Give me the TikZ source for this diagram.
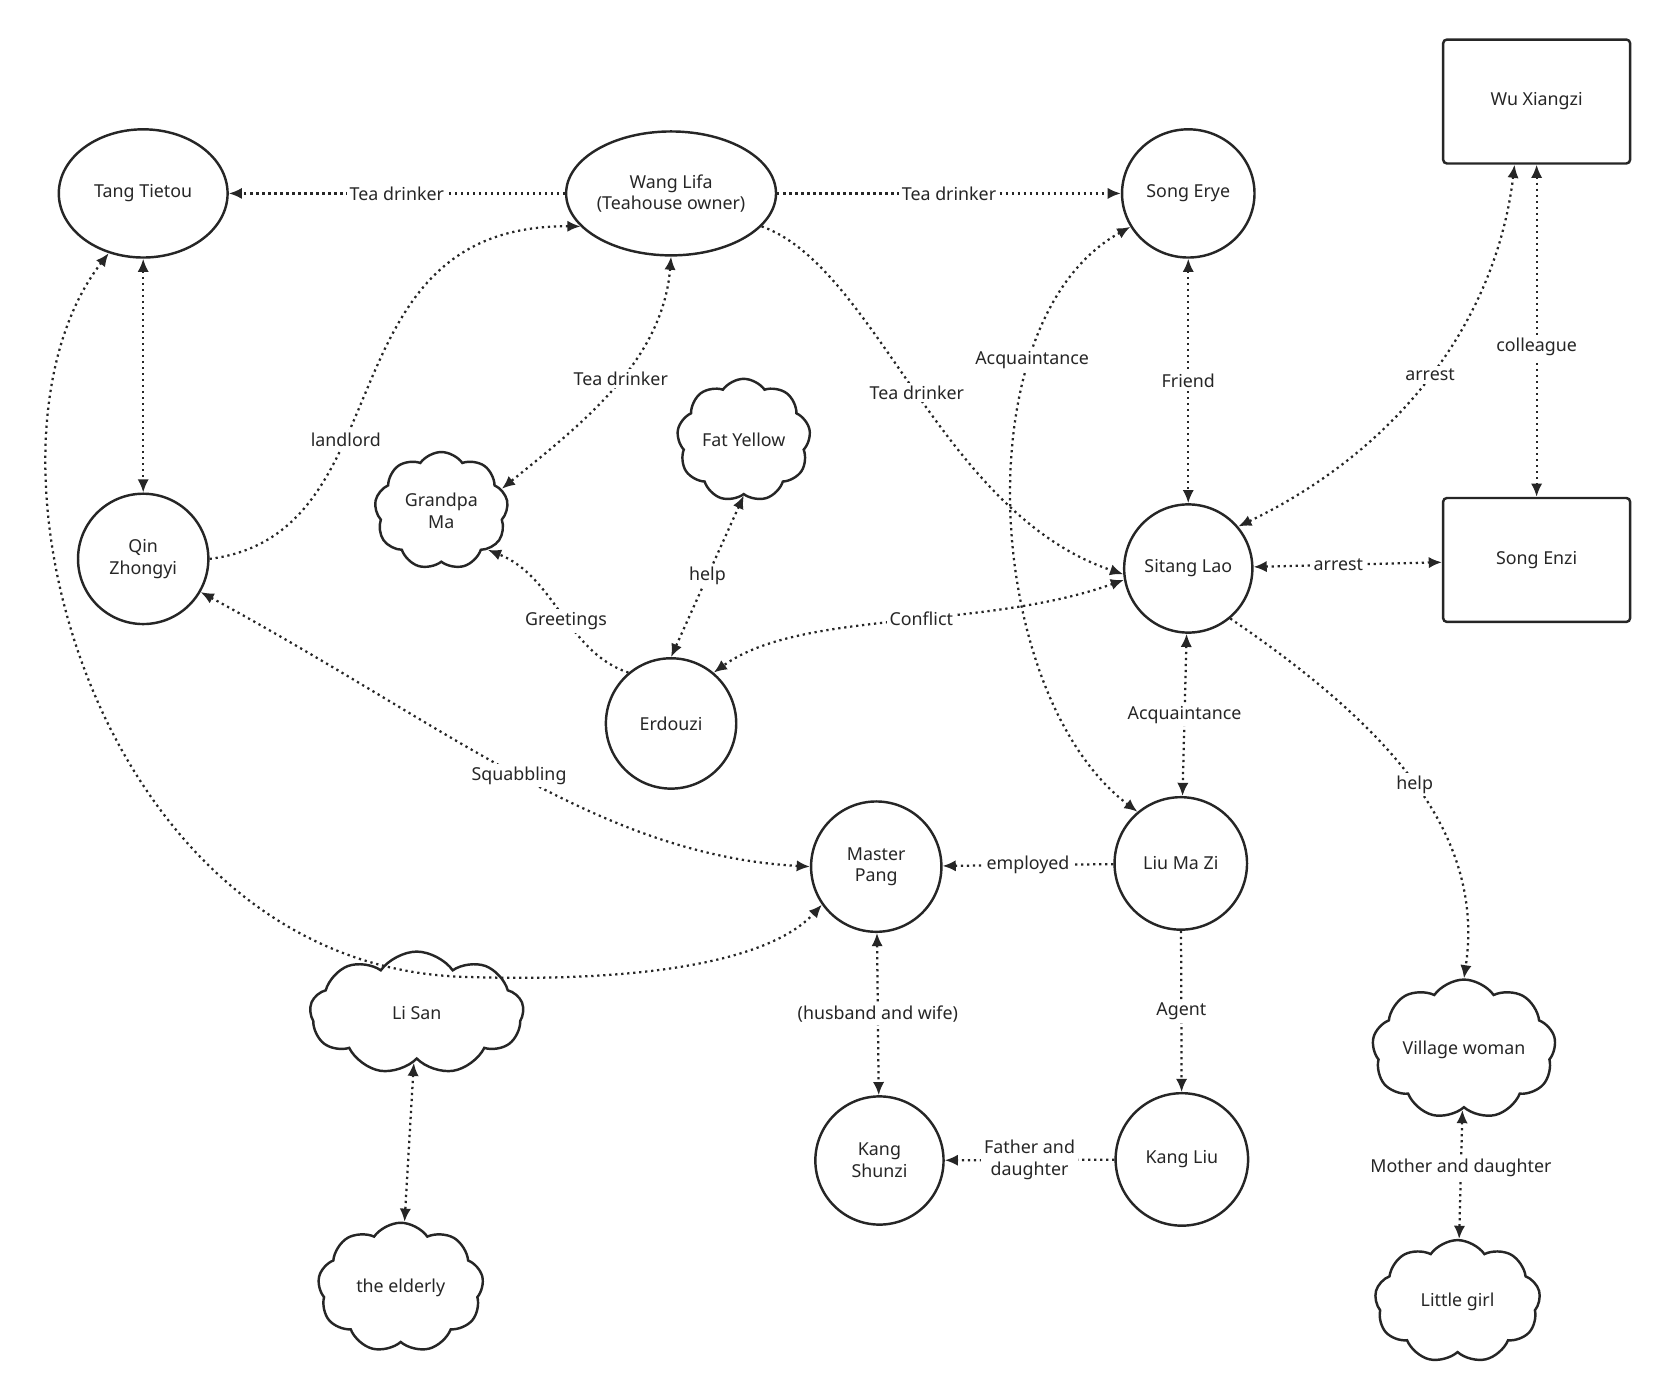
\documentclass[tikz,border=0pt]{standalone}
\usepackage{fontspec}
\setmainfont{Noto Sans}
\usetikzlibrary{shapes.geometric,shapes.symbols,arrows.meta}
\begin{document}
\begin{tikzpicture}[x=0.02cm,y=-0.02cm,
  every node/.style={font=\fontsize{9.5}{11.5}\selectfont,text=black!85,align=center},
  circ/.style={ellipse,draw=black!85,line width=1.3pt,inner sep=0pt},
  box/.style={rectangle,rounded corners=2pt,draw=black!85,line width=1.3pt,minimum width=3.5cm,minimum height=2.32cm},
  cld/.style={cloud,cloud puffs=9,cloud puff arc=110,draw=black!85,line width=1.3pt,aspect=1.1,inner sep=0pt},
  ed/.style={draw=black!85,line width=1.2pt,dotted,-{Latex[length=7pt,width=6pt]}},
  bd/.style={ed,{Latex[length=7pt,width=6pt]}-{Latex[length=7pt,width=6pt]}},
  lb/.style={fill=white,inner sep=1.5pt}]
\useasboundingbox (0,0) rectangle (1560,1306);
\node[circ,minimum width=3.16cm,minimum height=2.4cm] (tang) at (134,181) {Tang Tietou};
\node[circ,minimum width=3.8cm,minimum height=2.32cm] (wang) at (628,181) {Wang Lifa\\(Teahouse owner)};
\node[circ,minimum width=2.48cm,minimum height=2.4cm] (erye) at (1112,181) {Song Erye};
\node[box] (wu) at (1438,95) {Wu Xiangzi};
\node[circ,minimum width=2.44cm,minimum height=2.44cm] (qin) at (134,523) {Qin\\Zhongyi};
\node[cld,minimum width=2.5cm,minimum height=2.2cm] (ma) at (413,478) {Grandpa\\Ma};
\node[cld,minimum width=2.5cm,minimum height=2.3cm] (fat) at (696,412) {Fat Yellow};
\node[circ,minimum width=2.4cm,minimum height=2.4cm] (sitang) at (1112,532) {Sitang Lao};
\node[box] (enzi) at (1438,524) {Song Enzi};
\node[circ,minimum width=2.44cm,minimum height=2.44cm] (erdou) at (628,677) {Erdouzi};
\node[circ,minimum width=2.44cm,minimum height=2.44cm] (pang) at (820,811) {Master\\Pang};
\node[circ,minimum width=2.48cm,minimum height=2.48cm] (liu) at (1105,808) {Liu Ma Zi};
\node[cld,minimum width=4cm,minimum height=2.3cm] (lisan) at (390,948) {Li San};
\node[cld,minimum width=3.2cm,minimum height=2.2cm,aspect=1.5] (village) at (1370,982) {Village woman};
\node[circ,minimum width=2.4cm,minimum height=2.4cm] (shunzi) at (823,1086) {Kang\\Shunzi};
\node[circ,minimum width=2.48cm,minimum height=2.48cm] (kangliu) at (1106,1085) {Kang Liu};
\node[cld,minimum width=3.1cm,minimum height=2.3cm] (elder) at (375,1205) {the elderly};
\node[cld,minimum width=3.1cm,minimum height=2.3cm] (girl) at (1364,1218) {Little girl};

\draw[ed] (wang) -- node[lb,pos=0.5]{Tea drinker} (tang);
\draw[ed] (wang) -- node[lb,pos=0.5]{Tea drinker} (erye);
\draw[ed] (wang.-20) .. controls (820,250) and (880,480) .. node[lb,pos=0.5]{Tea drinker} (sitang.185);
\draw[bd] (wang.south) .. controls (620,340) and (540,400) .. node[lb,pos=0.45]{Tea drinker} (ma.20);
\draw[ed] (qin.east) .. controls (380,500) and (300,210) .. node[lb,pos=0.38]{landlord} (wang.200);
\draw[bd] (tang) -- (qin);
\draw[bd] (tang.240) .. controls (-40,420) and (90,900) .. (430,914) .. controls (600,920) and (720,900) .. (pang.215);
\draw[bd] (qin.-30) .. controls (420,680) and (560,800) .. node[lb,pos=0.5]{Squabbling} (pang.west);
\draw[ed] (erdou.130) .. controls (530,610) and (520,540) .. node[lb,pos=0.45]{Greetings} (ma.-40);
\draw[bd] (fat.south) -- node[lb,pos=0.5]{help} (erdou.north);
\draw[bd] (sitang.190) .. controls (920,590) and (750,570) .. node[lb,pos=0.45]{Conflict} (erdou.50);
\draw[bd] (erye) -- node[lb,pos=0.5]{Friend} (sitang);
\path (wu.south west) ++(68,0) coordinate (wua);
\draw[bd] (wua) .. controls (1400,300) and (1310,420) .. node[lb,pos=0.5]{arrest} (sitang.40);
\draw[bd] (wu) -- node[lb,pos=0.55]{colleague} (enzi);
\draw[bd] (sitang) -- node[lb,pos=0.45]{arrest} (enzi);
\draw[bd] (sitang) -- node[lb,pos=0.5]{Acquaintance} (liu);
\draw[bd] (erye.210) .. controls (900,300) and (920,650) .. node[lb,pos=0.28]{Acquaintance} (liu.130);
\draw[ed] (sitang.-50) .. controls (1300,680) and (1390,780) .. node[lb,pos=0.5]{help} (village.north);
\draw[ed] (liu) -- node[lb,pos=0.5]{employed} (pang);
\draw[bd] (pang) -- node[lb,pos=0.5]{(husband and wife)} (shunzi);
\draw[ed] (liu) -- node[lb,pos=0.5]{Agent} (kangliu);
\draw[ed] (kangliu) -- node[lb,pos=0.5]{Father and\\daughter} (shunzi);
\draw[bd] (lisan) -- (elder);
\draw[bd] (village) -- node[lb,pos=0.45]{Mother and daughter} (girl);
\end{tikzpicture}
\end{document}
